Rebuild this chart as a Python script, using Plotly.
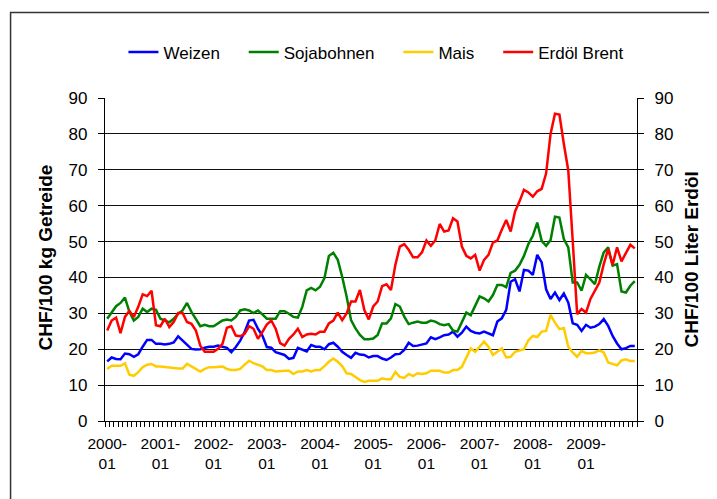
import plotly.graph_objects as go

# monthly prices, 2000-01 .. 2009-12
years = list(range(2000, 2010))
months = [f"{y}-{m:02d}" for y in years for m in range(1, 13)]

# CHF/100 kg
weizen = [
    16.6, 17.7, 17.3, 17.2, 18.8, 18.6, 17.9, 18.6, 20.7, 22.6, 22.6, 21.5,
    21.5, 21.3, 21.5, 21.9, 23.6, 22.4, 21.3, 20.1, 19.9, 20.0, 20.4, 20.7,
    20.7, 21.0, 20.7, 20.4, 19.2, 20.6, 22.4, 24.8, 28.0, 28.2, 25.7, 23.8,
    20.6, 20.4, 19.2, 18.9, 18.4, 17.3, 17.6, 20.4, 19.8, 19.4, 21.2, 20.7,
    20.7, 20.0, 21.4, 21.8, 20.7, 19.3, 18.4, 17.6, 19.0, 18.5, 18.4, 17.7,
    18.1, 18.1, 17.4, 17.0, 17.7, 18.6, 18.7, 19.8, 21.8, 20.9, 21.0, 21.2,
    21.6, 23.3, 22.8, 23.3, 23.9, 24.1, 24.9, 23.5, 24.6, 26.3, 25.1, 24.6,
    24.4, 24.9, 24.4, 23.9, 27.7, 28.6, 31.0, 38.8, 39.5, 36.1, 42.1, 41.9,
    40.7, 46.3, 44.2, 36.7, 34.0, 35.8, 33.7, 35.5, 33.0, 27.2, 26.8, 25.1,
    26.8, 26.0, 26.3, 27.0, 28.4, 26.5, 23.7, 21.6, 20.0, 20.3, 20.9, 20.9,
]
sojabohnen = [
    28.5, 30.1, 32.0, 32.9, 34.4, 30.4, 28.0, 29.0, 31.3, 30.4, 31.3, 31.0,
    28.5, 28.0, 27.5, 28.5, 29.9, 30.8, 32.9, 30.4, 28.5, 26.4, 26.8, 26.4,
    26.4, 27.1, 28.0, 28.3, 28.0, 29.0, 30.8, 31.1, 30.8, 30.1, 30.8, 29.7,
    28.5, 28.5, 28.5, 30.6, 30.6, 29.9, 29.0, 28.8, 31.8, 36.4, 37.1, 36.4,
    37.4, 39.8, 46.0, 46.9, 44.9, 40.2, 34.7, 28.1, 25.8, 24.0, 22.8, 22.8,
    23.0, 24.0, 27.2, 27.2, 28.6, 32.6, 31.9, 29.1, 27.0, 27.4, 27.7, 27.4,
    27.4, 28.0, 27.7, 27.0, 26.7, 27.0, 25.2, 24.9, 27.7, 30.2, 29.5, 32.3,
    34.7, 34.2, 33.3, 35.1, 37.9, 37.9, 37.3, 41.3, 41.9, 43.5, 46.0, 49.3,
    51.6, 55.3, 50.2, 48.8, 50.4, 56.9, 56.7, 50.7, 48.4, 38.6, 38.6, 36.3,
    40.7, 39.5, 38.1, 43.0, 47.0, 48.4, 43.3, 43.7, 36.1, 35.8, 37.7, 39.0,
]
mais = [
    14.5, 15.4, 15.4, 15.4, 16.1, 12.9, 12.6, 13.6, 15.0, 15.7, 15.9, 15.2,
    15.2, 15.0, 15.0, 14.8, 14.6, 14.6, 15.9, 15.2, 14.5, 13.8, 14.5, 15.0,
    15.0, 15.2, 15.2, 14.5, 14.2, 14.2, 14.5, 15.7, 16.8, 16.1, 15.6, 15.2,
    14.2, 14.2, 13.8, 14.0, 14.0, 14.0, 13.1, 13.8, 13.8, 14.2, 13.8, 14.2,
    14.2, 15.3, 16.5, 17.4, 16.5, 15.3, 13.3, 13.1, 12.3, 11.4, 10.9, 11.2,
    11.2, 11.2, 11.9, 11.6, 11.6, 13.7, 12.3, 12.0, 13.1, 12.5, 13.3, 13.1,
    13.3, 14.0, 14.0, 14.0, 13.5, 13.5, 14.2, 14.2, 15.1, 17.7, 20.2, 19.3,
    20.7, 22.1, 20.7, 18.4, 19.3, 20.2, 17.7, 17.9, 19.3, 19.6, 20.0, 22.5,
    23.7, 23.4, 24.9, 25.1, 29.6, 27.4, 25.6, 25.9, 20.7, 19.1, 17.9, 19.5,
    18.9, 18.9, 19.1, 19.7, 19.1, 16.3, 16.0, 15.5, 16.9, 17.2, 16.7, 16.7,
]
# CHF/100 Liter
erdoel_brent = [
    25.2, 28.0, 28.8, 24.5, 29.0, 30.7, 29.0, 31.8, 35.3, 34.8, 36.3, 26.7,
    26.4, 28.5, 26.2, 27.6, 30.1, 30.1, 27.6, 27.1, 25.2, 21.0, 19.3, 19.3,
    19.3, 20.1, 21.5, 26.0, 26.4, 23.8, 23.6, 24.3, 26.4, 25.7, 22.9, 24.8,
    26.9, 28.0, 25.7, 21.7, 21.0, 22.9, 24.1, 25.7, 23.4, 24.1, 24.3, 24.1,
    24.9, 24.9, 27.2, 28.0, 30.2, 28.1, 30.0, 33.3, 33.3, 36.5, 30.9, 28.3,
    31.9, 33.3, 37.6, 38.1, 36.5, 43.5, 48.6, 49.3, 47.7, 45.6, 45.6, 47.0,
    50.3, 48.8, 50.3, 54.9, 52.8, 53.1, 56.5, 55.6, 48.6, 46.0, 45.3, 46.3,
    41.9, 44.9, 46.3, 49.7, 50.3, 53.3, 56.0, 52.8, 58.4, 61.2, 64.4, 63.7,
    62.5, 64.0, 64.7, 69.0, 80.0, 85.6, 85.4, 77.2, 69.8, 50.2, 29.8, 31.2,
    30.2, 34.0, 36.1, 38.6, 43.7, 47.9, 43.5, 48.4, 44.5, 47.0, 49.1, 48.1,
]

x = list(range(len(months)))
year_ticks = [months.index(f"{y}-01") for y in years]
year_labels = [f"{y}-<br>01" for y in years]

font = "Liberation Sans, Arial, sans-serif"
pad = "\u00a0\u00a0\u00a0\u00a0"  # extra room between legend entries

fig = go.Figure()
for name, vals, color, axis, label in [
    ("Weizen", weizen, "#0000FF", "y", "Weizen" + pad),
    ("Sojabohnen", sojabohnen, "#008000", "y", "Sojabohnen" + pad),
    ("Mais", mais, "#FFCC00", "y", "Mais" + pad),
    ("Erdöl Brent", erdoel_brent, "#FF0000", "y2", "Erdöl Brent"),
]:
    fig.add_trace(go.Scatter(
        x=x, y=vals, name=label, yaxis=axis, mode="lines",
        line=dict(color=color, width=2.5),
        text=months, hovertemplate="%{text}: %{y}<extra>" + name + "</extra>",
    ))

axis_common = dict(
    range=[0, 90], dtick=10, tick0=0,
    showline=True, linecolor="black", linewidth=1.3,
    ticks="outside", ticklen=6, tickcolor="black", ticklabelstandoff=7,
    tickfont=dict(size=17, color="black", family=font),
    zeroline=False, automargin=False,
)

fig.update_layout(
    width=717, height=499,
    # page has an 8px body margin, so the plot area sits 8px up/left here
    margin=dict(l=96.5, r=88, t=89.7, b=86.3),
    paper_bgcolor="white", plot_bgcolor="white",
    font=dict(family=font, color="black"),
    showlegend=True,
    legend=dict(
        orientation="h", x=0.0347, xanchor="left", y=1.141, yanchor="middle",
        font=dict(size=17), itemwidth=30, tracegroupgap=0,
    ),
    xaxis=dict(
        range=[-0.5, len(x) - 0.5],
        tickmode="array", tickvals=year_ticks, ticktext=year_labels,
        ticks="", ticklabelstandoff=8,
        tickfont=dict(size=15.5, color="black", family=font),
        showline=True, linecolor="black", linewidth=1.3,
        showgrid=False, zeroline=False, automargin=False,
        minor=dict(ticks="outside", ticklen=5, tickcolor="black",
                   tickmode="linear", tick0=-0.5, dtick=1, showgrid=False),
    ),
    yaxis=dict(**axis_common, showgrid=True, gridcolor="#111111", gridwidth=1),
    yaxis2=dict(**axis_common, overlaying="y", side="right", showgrid=False),
    shapes=[dict(
        type="rect", xref="paper", yref="paper",
        x0=-0.1775, x1=1.3, y0=-0.5, y1=1.265,
        line=dict(color="#333333", width=1.5), layer="below",
    )],
    annotations=[
        dict(text="<b>CHF/100 kg Getreide</b>", xref="paper", yref="paper",
             x=-0.1117, y=0.505, xanchor="center", yanchor="middle",
             textangle=-90, showarrow=False, font=dict(size=19)),
        dict(text="<b>CHF/100 Liter Erdöl</b>", xref="paper", yref="paper",
             x=1.1033, y=0.5, xanchor="center", yanchor="middle",
             textangle=-90, showarrow=False, font=dict(size=19)),
    ],
)

fig.write_html("out.html")
